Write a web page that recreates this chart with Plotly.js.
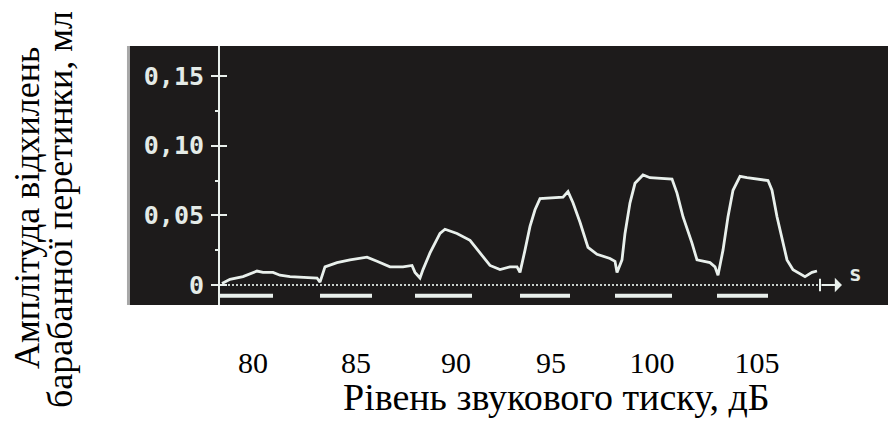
<!DOCTYPE html>
<html>
<head>
<meta charset="utf-8">
<script src="https://cdn.plot.ly/plotly-3.0.1.min.js"></script>
<style>
  html, body { margin: 0; padding: 0; background: #ffffff; }
  #chart { width: 888px; height: 423px; }
</style>
</head>
<body>
<div id="chart"></div>
<script>
// Eardrum deflection trace, time in seconds vs amplitude in ml
const timeSec = [0.2, 1.0, 2.3, 3.7, 4.3, 5.3, 6.0, 7.0, 9.7, 10.0, 10.5, 11.7, 13.0, 14.7, 15.7, 17.0, 18.3, 19.2, 19.5, 20.0,
  20.3, 21.0, 22.0, 22.5, 23.7, 25.0, 26.0, 27.0, 28.0, 29.0, 29.7, 30.0, 30.5, 31.0, 31.5, 32.0, 34.3, 34.8, 35.3, 36.0,
  36.8, 37.7, 39.0, 39.5, 39.7, 40.2, 40.5, 41.0, 41.5, 42.3, 43.0, 45.2, 45.7, 46.3, 47.2, 47.7, 49.0, 49.5, 49.8, 50.3,
  50.8, 51.3, 52.0, 52.7, 54.8, 55.2, 55.7, 56.2, 56.7, 57.3, 58.5, 59.2, 59.7];
const amplitude = [0.001, 0.004, 0.006, 0.010, 0.009, 0.009, 0.007, 0.006, 0.005, 0.002, 0.013, 0.016, 0.018, 0.020, 0.017, 0.013, 0.013, 0.014, 0.009, 0.005,
  0.011, 0.023, 0.037, 0.040, 0.037, 0.032, 0.023, 0.014, 0.011, 0.013, 0.013, 0.009, 0.025, 0.042, 0.054, 0.062, 0.063, 0.067, 0.059, 0.045,
  0.027, 0.022, 0.019, 0.017, 0.009, 0.018, 0.037, 0.059, 0.073, 0.079, 0.077, 0.076, 0.066, 0.049, 0.030, 0.018, 0.016, 0.013, 0.007, 0.025,
  0.049, 0.068, 0.078, 0.077, 0.075, 0.068, 0.049, 0.034, 0.018, 0.011, 0.006, 0.009, 0.010];

// Tone stimulus intervals (s) and their sound pressure levels (dB)
const stimStart = [0.0, 10.0, 19.5, 30.0, 39.5, 49.7];
const stimEnd = [5.3, 15.2, 25.2, 35.0, 45.2, 54.8];
const levelPos = [3.3, 13.6, 23.6, 33.1, 43.2, 53.7];
const levelLabels = ['80', '85', '90', '95', '100', '105'];

// Amplitude axis ticks
const ampTicks = [0, 0.05, 0.10, 0.15];
const ampTickText = ['0', '0,05', '0,10', '0,15'];

const timeAxisEnd = 60;

const ink = '#e9f0ec';
const panel = '#1d1b1b';
const serif = '"Liberation Serif", "Times New Roman", serif';
const mono = '"DejaVu Sans Mono", monospace';

// stimulus markers as one broken line below the baseline
const barX = [], barY = [];
stimStart.forEach((s, i) => {
  barX.push(s, stimEnd[i], null);
  barY.push(-0.0078, -0.0078, null);
});

const traces = [
  { // dotted time baseline
    x: [0, timeAxisEnd], y: [0, 0], mode: 'lines', hoverinfo: 'skip',
    line: { color: '#c9d1cd', width: 2, dash: '2px,2px' }
  },
  { // stimulus markers
    x: barX, y: barY, mode: 'lines', hoverinfo: 'skip', connectgaps: false,
    line: { color: ink, width: 4 }
  },
  { // response trace
    x: timeSec, y: amplitude, mode: 'lines',
    line: { color: ink, width: 2.8 }
  },
  { // second y axis only to give the crossing tick marks
    x: [0], y: [0], yaxis: 'y2', mode: 'markers', marker: { opacity: 0 }, hoverinfo: 'skip'
  }
];

const layout = {
  width: 888, height: 423,
  margin: { l: 220, r: 0, t: 46, b: 118 },
  paper_bgcolor: '#ffffff',
  plot_bgcolor: panel,
  showlegend: false,
  xaxis: {
    range: [0, 66.8],
    showgrid: false, zeroline: false, showline: false,
    ticks: '',
    tickvals: levelPos, ticktext: levelLabels,
    tickfont: { family: serif, size: 30, color: '#000000' },
    ticklabelstandoff: 37
  },
  yaxis: {
    range: [-0.0144, 0.1716],
    showgrid: false, zeroline: false,
    showline: true, linecolor: ink, linewidth: 2,
    ticks: 'outside', ticklen: 7, tickwidth: 2, tickcolor: ink,
    tickvals: ampTicks, ticktext: ampTickText,
    tickfont: { family: mono, size: 25, color: '#e4ebe7', weight: 'bold' },
    ticklabelstandoff: 2,
    minor: { ticks: 'outside', ticklen: 3, tickwidth: 2, tickcolor: ink, tickvals: [0.025, 0.075, 0.125] }
  },
  yaxis2: {
    overlaying: 'y', matches: 'y', side: 'left', anchor: 'x',
    showgrid: false, zeroline: false, showline: false,
    ticks: 'inside', ticklen: 7, tickwidth: 2, tickcolor: ink,
    tickvals: ampTicks, showticklabels: false
  },
  shapes: [
    { // panel continues left of the amplitude axis
      type: 'rect', xref: 'paper', yref: 'paper', x0: -0.1392, x1: 0, y0: 0, y1: 1,
      fillcolor: panel, line: { width: 0 }, layer: 'below'
    },
    { // grey panel edge
      type: 'line', xref: 'paper', yref: 'paper', x0: -0.1370, x1: -0.1370, y0: 0, y1: 1,
      line: { color: '#a8a8a8', width: 3 }
    },
    { // end stop of the time axis
      type: 'line', xref: 'x', yref: 'y', x0: timeAxisEnd, x1: timeAxisEnd, y0: -0.0045, y1: 0.0045,
      line: { color: ink, width: 2 }
    }
  ],
  annotations: [
    { // time axis arrow
      x: 62.2, y: 0, ax: timeAxisEnd, ay: 0, axref: 'x', ayref: 'y', xref: 'x', yref: 'y',
      text: '', showarrow: true, arrowhead: 1, arrowsize: 1.2, arrowwidth: 2, arrowcolor: ink
    },
    {
      x: 63.5, y: 0.008, xref: 'x', yref: 'y', text: 's', showarrow: false,
      font: { family: mono, size: 21, color: '#e4ebe7', weight: 'bold' }
    },
    { // level axis title
      xref: 'paper', yref: 'paper', x: 0.503, y: -0.357, xanchor: 'center', yanchor: 'middle',
      text: 'Рівень звукового тиску, дБ', showarrow: false,
      font: { family: serif, size: 38, color: '#000000' }
    },
    { // amplitude axis title, first line
      xref: 'paper', yref: 'paper', x: -0.2889, y: 0.3745, xanchor: 'center', yanchor: 'middle',
      text: 'Амплітуда відхилень',
      textangle: -90, showarrow: false,
      font: { family: serif, size: 36, color: '#000000' }
    },
    { // amplitude axis title, second line
      xref: 'paper', yref: 'paper', x: -0.2395, y: 0.3668, xanchor: 'center', yanchor: 'middle',
      text: 'барабанної перетинки, мл',
      textangle: -90, showarrow: false,
      font: { family: serif, size: 36, color: '#000000' }
    }
  ]
};

Plotly.newPlot('chart', traces, layout, { staticPlot: true, displayModeBar: false });
</script>
</body>
</html>
